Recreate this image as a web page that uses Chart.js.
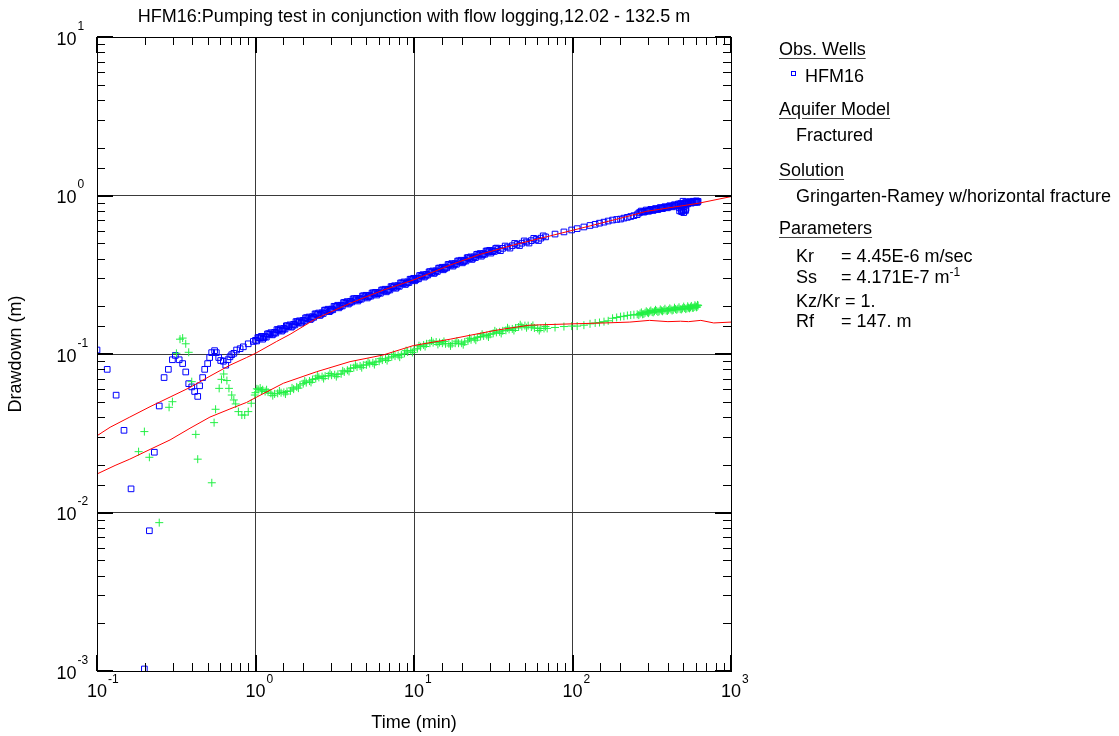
<!DOCTYPE html>
<html lang="en">
<head>
    <meta charset="UTF-8">
    <title>HFM16 pumping test</title>
    <style>
        body {
            margin: 0;
            background: #fff;
            font-family: Arial, "Liberation Sans", sans-serif;
        }
        #wrap {
            position: relative;
            width: 1119px;
            height: 736px;
        }
        #panel div {
            position: absolute;
            font-size: 18px;
            line-height: 20px;
            color: #000;
            white-space: nowrap;
        }
        #panel .head {
            left: 779px;
            text-decoration: underline;
            text-underline-offset: 3px;
            text-decoration-color: #444;
        }
        #panel .item { left: 796px; }
        #panel .val { left: 841px; }
        #panel sup { font-size: 12px; vertical-align: 7px; line-height: 0; }
        .mark {
            position: absolute;
            left: 791px;
            top: 71px;
            width: 3px;
            height: 3px;
            border: 1px solid #0000ff;
        }
    </style>
</head>
<body>
<div id="wrap">
    <canvas id="chart" width="1119" height="736"></canvas>
    <div id="panel">
        <div class="head" style="top:39px">Obs. Wells</div>
        <span class="mark"></span>
        <div style="left:805px;top:65.5px">HFM16</div>
        <div class="head" style="top:99px">Aquifer Model</div>
        <div class="item" style="top:125px">Fractured</div>
        <div class="head" style="top:159.5px">Solution</div>
        <div class="item" style="top:185.5px">Gringarten-Ramey w/horizontal fracture</div>
        <div class="head" style="top:218px">Parameters</div>
        <div class="item" style="top:245.5px">Kr</div>
        <div class="val" style="top:245.5px">= 4.45E-6 m/sec</div>
        <div class="item" style="top:267px">Ss</div>
        <div class="val" style="top:267px">= 4.171E-7 m<sup>-1</sup></div>
        <div class="item" style="top:291px">Kz/Kr = 1.</div>
        <div class="item" style="top:310.5px">Rf</div>
        <div class="val" style="top:310.5px">= 147. m</div>
    </div>
</div>

<script src="https://cdn.jsdelivr.net/npm/chart.js"></script>
<script>
    // observed drawdown, HFM16 (min, m)
    const obsTime = [0.1, 0.116, 0.132, 0.148, 0.164, 0.199, 0.214, 0.230, 0.247, 0.265,
        0.282, 0.299, 0.312, 0.330, 0.347, 0.363, 0.379, 0.396, 0.413, 0.432,
        0.444, 0.464, 0.478, 0.499, 0.514, 0.529, 0.552, 0.566, 0.586, 0.603,
        0.627, 0.649, 0.670, 0.690, 0.708, 0.730, 0.760, 0.800, 0.838, 0.900, 0.969,
        1.00, 1.07, 1.15, 1.23, 1.32, 1.41, 1.51, 1.62, 1.74, 1.86,
        2.00, 2.14, 2.29, 2.46, 2.63, 2.82, 3.02, 3.24, 3.47, 3.72,
        3.98, 4.27, 4.57, 4.90, 5.25, 5.62, 6.03, 6.46, 6.92, 7.41,
        7.94, 8.51, 9.12, 9.77, 10.5, 11.2, 12.0, 12.9, 13.8, 14.8,
        15.8, 17.0, 18.2, 19.5, 20.9, 22.4, 24.0, 25.7, 27.5, 29.5,
        31.6, 33.9, 36.3, 38.9, 41.7, 44.7, 47.9, 51.3, 55.0, 58.9, 63.1, 67.6,
        77.6, 88.3, 98.8, 107, 118, 129, 139, 148, 158, 168, 179, 190, 201, 211, 222, 233, 244, 256,
        267, 277, 287, 297, 307, 318, 329, 340, 352, 364,
        377, 390, 404, 418, 432, 447, 462, 470, 478, 485,
        490, 495, 500, 505, 510, 515, 520, 527, 540, 555,
        570, 585, 600, 610, 620,
        1.035, 1.11, 1.19, 1.275, 1.365, 1.46, 1.565, 1.68, 1.80, 1.93,
        2.07, 2.215, 2.375, 2.545, 2.725, 2.92, 3.13, 3.355, 3.595, 3.85,
        4.125, 4.42, 4.735, 5.075, 5.435, 5.825, 6.245, 6.69, 7.165, 7.675,
        8.225, 8.815, 9.445, 10.1, 10.85, 11.6, 12.45, 13.35, 14.3, 15.3,
        16.4, 17.6, 18.85, 20.2, 21.65, 23.2, 24.85, 26.6, 28.5, 30.55,
        32.75, 35.1, 37.6, 40.3, 43.2, 46.3, 49.6, 53.15, 56.95, 61.0, 65.35,
        262, 272, 282, 292, 302, 312, 323, 334, 346, 358,
        370, 383, 397, 411, 425, 440, 455, 466, 474, 482,
        488, 493, 498, 503, 508, 513, 518, 524, 533, 547,
        562, 577, 592, 605, 615];
    const obsDrawdown = [0.106, 0.080, 0.055, 0.033, 0.0141, 0.00103, 0.00767, 0.024, 0.047, 0.071,
        0.080, 0.092, 0.098, 0.092, 0.087, 0.077, 0.065, 0.062, 0.058, 0.054,
        0.063, 0.071, 0.080, 0.087, 0.095, 0.102, 0.105, 0.102, 0.095, 0.091,
        0.090, 0.085, 0.092, 0.096, 0.099, 0.101, 0.106, 0.108, 0.111, 0.116, 0.120,
        0.122, 0.126, 0.129, 0.133, 0.137, 0.141, 0.145, 0.149, 0.154, 0.158,
        0.163, 0.167, 0.172, 0.177, 0.182, 0.187, 0.192, 0.198, 0.203, 0.209,
        0.215, 0.219, 0.224, 0.229, 0.234, 0.239, 0.244, 0.250, 0.256, 0.263,
        0.270, 0.278, 0.285, 0.293, 0.301, 0.309, 0.318, 0.326, 0.335, 0.344,
        0.353, 0.363, 0.372, 0.381, 0.390, 0.400, 0.410, 0.420, 0.430, 0.440,
        0.448, 0.456, 0.464, 0.473, 0.482, 0.491, 0.500, 0.509, 0.519, 0.528, 0.538, 0.548,
        0.571, 0.589, 0.606, 0.618, 0.633, 0.647, 0.658, 0.669, 0.679, 0.690, 0.700, 0.706, 0.71, 0.72, 0.728, 0.737, 0.746, 0.757,
        0.785, 0.79, 0.795, 0.80, 0.805, 0.81, 0.815, 0.82, 0.826, 0.832,
        0.838, 0.843, 0.848, 0.855, 0.86, 0.866, 0.872, 0.84, 0.878, 0.82,
        0.80, 0.884, 0.81, 0.85, 0.89, 0.80, 0.83, 0.895, 0.90, 0.905,
        0.908, 0.912, 0.915, 0.905, 0.918,
        0.127, 0.124, 0.134, 0.132, 0.1425, 0.1394, 0.1507, 0.1477, 0.160, 0.1565,
        0.169, 0.165, 0.179, 0.175, 0.189, 0.185, 0.200, 0.1955, 0.211, 0.2067,
        0.2224, 0.216, 0.2322, 0.2257, 0.2424, 0.2355, 0.2532, 0.2467, 0.266, 0.2598,
        0.2809, 0.2745, 0.2962, 0.2896, 0.3126, 0.3057, 0.330, 0.3222, 0.348, 0.3398,
        0.367, 0.3583, 0.386, 0.3759, 0.405, 0.395, 0.425, 0.414, 0.446, 0.433,
        0.463, 0.4485, 0.480, 0.4656, 0.4987, 0.4831, 0.5171, 0.5012, 0.5366, 0.5197, 0.5566,
        0.775, 0.798, 0.785, 0.81, 0.795, 0.818, 0.805, 0.828, 0.815, 0.84,
        0.826, 0.85, 0.836, 0.862, 0.848, 0.875, 0.858, 0.885, 0.80, 0.89,
        0.79, 0.86, 0.92, 0.78, 0.875, 0.90, 0.815, 0.91, 0.885, 0.915,
        0.895, 0.92, 0.905, 0.925, 0.91];

    // extra HFM16 readings inside the dense 1-35 min band
    const obsTimeBand = [1.017, 1.053, 1.089, 1.127, 1.170, 1.211, 1.251, 1.295, 1.343, 1.390,
        1.435, 1.485, 1.536, 1.590, 1.648, 1.706, 1.770, 1.832, 1.892, 1.959,
        2.035, 2.106, 2.177, 2.253, 2.330, 2.411, 2.503, 2.590, 2.676, 2.769,
        2.869, 2.969, 3.073, 3.180, 3.296, 3.412, 3.530, 3.654, 3.785, 3.917,
        4.049, 4.191, 4.344, 4.496, 4.650, 4.812, 4.985, 5.160, 5.341, 5.528,
        5.718, 5.918, 6.135, 6.350, 6.572, 6.802, 7.040, 7.287, 7.539, 7.803,
        8.078, 8.361, 8.658, 8.961, 9.279, 9.603, 9.940, 10.29, 10.68, 11.06,
        11.39, 11.79, 12.21, 12.64, 13.12, 13.58, 14.04, 14.53, 15.06, 15.58,
        16.07, 16.64, 17.30, 17.90, 18.52, 19.16, 19.84, 20.53, 21.26, 22.01,
        22.79, 23.59, 24.42, 25.27, 26.15, 27.06, 27.98, 28.96, 30.01, 31.06,
        32.15, 33.27];
    const obsDrawdownBand = [0.1208, 0.1269, 0.1292, 0.1266, 0.1277, 0.1342, 0.1363, 0.1337, 0.1356, 0.1425,
        0.1445, 0.1417, 0.1436, 0.1508, 0.1527, 0.1497, 0.1525, 0.1602, 0.162, 0.1588,
        0.1614, 0.1695, 0.1712, 0.1678, 0.1703, 0.1789, 0.1814, 0.1779, 0.1802, 0.1893,
        0.1917, 0.1879, 0.1901, 0.1997, 0.203, 0.199, 0.201, 0.2111, 0.2142, 0.21,
        0.2129, 0.2236, 0.2245, 0.2201, 0.2218, 0.233, 0.2347, 0.2301, 0.2317, 0.2434,
        0.245, 0.2402, 0.2416, 0.2538, 0.2563, 0.2513, 0.2534, 0.2662, 0.2696, 0.2643,
        0.2673, 0.2808, 0.285, 0.2794, 0.2822, 0.2964, 0.3003, 0.2945, 0.298, 0.313,
        0.3167, 0.3105, 0.3148, 0.3307, 0.3342, 0.3276, 0.3317, 0.3484, 0.3526, 0.3457,
        0.3495, 0.3671, 0.3721, 0.3648, 0.3683, 0.3869, 0.3905, 0.3829, 0.3861, 0.4056,
        0.41, 0.402, 0.4059, 0.4264, 0.4305, 0.4221, 0.4257, 0.4472, 0.451, 0.4422,
        0.4435, 0.4659];

    // derivative data (green crosses)
    const derivTime = [0.183, 0.199, 0.214, 0.247, 0.285, 0.299, 0.317, 0.334, 0.347, 0.363,
        0.379, 0.396, 0.420, 0.432, 0.530, 0.548, 0.560, 0.590, 0.610, 0.630,
        0.660, 0.680, 0.708, 0.730, 0.750, 0.780, 0.820, 0.855, 0.900, 0.940, 0.990,
        1.00, 1.04, 1.07, 1.11, 1.15, 1.20, 1.25, 1.32, 1.38, 1.45,
        1.51, 1.58, 1.66, 1.74, 1.82, 1.91, 2.00, 2.09, 2.19, 2.29,
        2.40, 2.51, 2.63, 2.75, 2.88, 3.02, 3.16, 3.31, 3.47, 3.63,
        3.80, 3.98, 4.17, 4.37, 4.57, 4.79, 5.01, 5.25, 5.50, 5.75,
        6.03, 6.31, 6.61, 6.92, 7.24, 7.59, 7.94, 8.32, 8.71, 9.12,
        9.55, 10.0, 10.5, 11.0, 11.5, 12.0, 12.6, 13.2, 13.8, 14.5,
        15.1, 15.8, 16.6, 17.4, 18.2, 19.1, 20.0, 20.9, 21.9, 22.9,
        24.0, 25.1, 26.3, 27.5, 28.8, 30.2, 31.6, 33.1, 34.7, 36.3,
        38.0, 39.8, 41.7, 43.7, 45.7, 47.9, 50.1, 52.5, 55.0, 57.5,
        60.3, 63.1, 66.1, 69.2,
        77.6, 88.3, 98.8, 107, 118, 129, 139, 148, 158, 168, 179, 190, 201, 211, 222, 233, 244, 256,
        267, 277, 287, 297, 307, 318, 329, 340, 352, 364,
        377, 390, 404, 418, 432, 447, 462, 478, 495, 510,
        527, 540, 555, 570, 585, 600, 610, 620,
        1.02, 1.09, 1.175, 1.285, 1.415, 1.545, 1.70, 1.865, 2.045, 2.24,
        2.455, 2.69, 2.95, 3.235, 3.55, 3.89, 4.27, 4.68, 5.13, 5.625,
        6.17, 6.765, 7.415, 8.125, 8.915, 9.775, 10.75, 11.75, 12.9, 14.15,
        15.45, 17.0, 18.65, 20.45, 22.4, 24.55, 26.9, 29.5, 32.35, 35.5,
        38.9, 42.7, 46.8, 51.3, 56.25, 61.7, 67.6,
        262, 272, 282, 292, 302, 312, 323, 334, 346, 358,
        370, 383, 397, 411, 425, 440, 455, 470, 486, 503,
        518, 533, 547, 562, 577, 592, 605, 615];
    const derivDrawdown = [0.0242, 0.0324, 0.0223, 0.00863, 0.0461, 0.050, 0.101, 0.124, 0.126, 0.116,
        0.1025, 0.0669, 0.0311, 0.0217, 0.0154, 0.0369, 0.0448, 0.0607, 0.0692, 0.0748,
        0.068, 0.0607, 0.0551, 0.0513, 0.0484, 0.0433, 0.0412, 0.0412, 0.0433, 0.0489, 0.0551,
        0.057, 0.0598, 0.061, 0.0595, 0.058, 0.0575, 0.0565, 0.056, 0.0565, 0.057,
        0.0572, 0.058, 0.0585, 0.060, 0.062, 0.0637, 0.065, 0.066, 0.0675, 0.069,
        0.070, 0.0712, 0.072, 0.0725, 0.073, 0.0735, 0.074, 0.0745, 0.075, 0.077,
        0.079, 0.0812, 0.082, 0.083, 0.084, 0.085, 0.0855, 0.087, 0.088, 0.089,
        0.090, 0.0915, 0.093, 0.0945, 0.096, 0.097, 0.098, 0.099, 0.101, 0.103,
        0.105, 0.106, 0.108, 0.111, 0.114, 0.116, 0.117, 0.118, 0.119, 0.118,
        0.117, 0.116, 0.116, 0.116, 0.117, 0.117, 0.117, 0.119, 0.121, 0.123,
        0.125, 0.127, 0.129, 0.130, 0.131, 0.133, 0.135, 0.137, 0.138, 0.140,
        0.141, 0.143, 0.144, 0.146, 0.148, 0.149, 0.151, 0.151, 0.148, 0.146,
        0.145, 0.145, 0.145, 0.145,
        0.147, 0.149, 0.150, 0.150, 0.152, 0.155, 0.157, 0.158, 0.160, 0.162, 0.168, 0.170, 0.172, 0.173, 0.175, 0.176, 0.177, 0.178,
        0.180, 0.178, 0.182, 0.183, 0.185, 0.184, 0.186, 0.187, 0.186, 0.188,
        0.189, 0.188, 0.190, 0.191, 0.190, 0.192, 0.193, 0.192, 0.194, 0.195,
        0.194, 0.196, 0.197, 0.196, 0.198, 0.200, 0.198, 0.202,
        0.0603, 0.0585, 0.0595, 0.0546, 0.0584, 0.0559, 0.0611, 0.0609, 0.0675, 0.0662,
        0.0727, 0.0700, 0.0754, 0.0720, 0.0783, 0.0776, 0.085, 0.082, 0.0888, 0.0858,
        0.0934, 0.0909, 0.0994, 0.0955, 0.105, 0.1023, 0.1128, 0.1115, 0.121, 0.1149,
        0.120, 0.1125, 0.1205, 0.1145, 0.1257, 0.1222, 0.1334, 0.128, 0.140, 0.1348,
        0.1463, 0.1407, 0.153, 0.1465, 0.1514, 0.1407, 0.149,
        0.176, 0.183, 0.179, 0.186, 0.181, 0.188, 0.183, 0.190, 0.184, 0.191,
        0.186, 0.193, 0.187, 0.194, 0.188, 0.196, 0.190, 0.197, 0.191, 0.199,
        0.192, 0.200, 0.194, 0.201, 0.195, 0.203, 0.197, 0.204];

    // Gringarten-Ramey type curves (red)
    const fitTime = [0.1, 0.121, 0.161, 0.216, 0.289, 0.386, 0.516, 0.69, 0.879, 1.0,
        1.36, 1.65, 2.43, 3.95, 6.4, 9.9, 16.9, 26.1, 42.4, 100,
        200, 294, 622, 1000];
    const fitDrawdown = [0.0305, 0.0345, 0.040, 0.0465, 0.0535, 0.0615, 0.0725, 0.085, 0.095, 0.101,
        0.120, 0.133, 0.168, 0.209, 0.253, 0.293, 0.364, 0.425, 0.487, 0.603,
        0.718, 0.795, 0.893, 0.984];
    const fitDerivTime = [0.1, 0.13, 0.161, 0.216, 0.289, 0.386, 0.516, 0.69, 0.879, 1.0,
        1.5, 2.43, 3.95, 6.4, 9.9, 16.9, 26.1, 34, 53.5, 100,
        160, 230, 306, 400, 480, 540, 645, 778, 1000];
    const fitDeriv = [0.0175, 0.0198, 0.0217, 0.0250, 0.0287, 0.0340, 0.0400, 0.0450, 0.0495, 0.053,
        0.0654, 0.0773, 0.0895, 0.0986, 0.113, 0.124, 0.135, 0.142, 0.152, 0.155,
        0.157, 0.159, 0.163, 0.160, 0.161, 0.160, 0.163, 0.157, 0.159];

    // decade labels: 10^n
    const xTickExp = [-1, 0, 1, 2, 3];
    const yTickExp = [-3, -2, -1, 0, 1];

    const pairs = (xs, ys) => xs.map((t, i) => ({x: t, y: ys[i]}));
    const isDecade = v => Math.abs(Math.log10(v) - Math.round(Math.log10(v))) < 1e-6;
    const FONT = 'Arial, "Liberation Sans", sans-serif';

    // inward ticks, frame and 10^n labels
    const axisDecor = {
        id: 'axisDecor',
        afterDraw(chart) {
            const ctx = chart.ctx;
            const a = chart.chartArea;
            const sx = chart.scales.x, sy = chart.scales.y;
            ctx.save();
            ctx.strokeStyle = '#000';
            sx.ticks.forEach(t => {
                const major = isDecade(t.value);
                const len = major ? 16 : 8;
                ctx.lineWidth = major ? 2 : 1;
                const px = Math.round(sx.getPixelForValue(t.value)) + (major ? 0 : 0.5);
                ctx.beginPath();
                ctx.moveTo(px, a.bottom); ctx.lineTo(px, a.bottom - len);
                ctx.moveTo(px, a.top); ctx.lineTo(px, a.top + len);
                ctx.stroke();
            });
            sy.ticks.forEach(t => {
                const major = isDecade(t.value);
                const len = major ? 16 : 8;
                ctx.lineWidth = major ? 2 : 1;
                const py = Math.round(sy.getPixelForValue(t.value)) + (major ? 0 : 0.5);
                ctx.beginPath();
                ctx.moveTo(a.left, py); ctx.lineTo(a.left + len, py);
                ctx.moveTo(a.right, py); ctx.lineTo(a.right - len, py);
                ctx.stroke();
            });
            ctx.lineWidth = 1;
            ctx.strokeRect(Math.round(a.left) + 0.5, Math.round(a.top) + 0.5,
                Math.round(a.right - a.left), Math.round(a.bottom - a.top));

            ctx.fillStyle = '#000';
            ctx.textBaseline = 'alphabetic';
            xTickExp.forEach(e => {
                const px = sx.getPixelForValue(Math.pow(10, e));
                ctx.font = '18px ' + FONT;
                ctx.textAlign = 'center';
                ctx.fillText('10', px, a.bottom + 26);
                const w = ctx.measureText('10').width;
                ctx.font = '12px ' + FONT;
                ctx.textAlign = 'left';
                ctx.fillText(String(e), px + w / 2 + 1, a.bottom + 12);
            });
            yTickExp.forEach(e => {
                const py = sy.getPixelForValue(Math.pow(10, e));
                ctx.font = '18px ' + FONT;
                ctx.textAlign = 'right';
                ctx.fillText('10', a.left - 20.5, py + 7.5);
                ctx.font = '12px ' + FONT;
                ctx.textAlign = 'left';
                ctx.fillText(String(e), a.left - 19.5, py - 7.5);
            });
            ctx.restore();
        }
    };

    const gridColor = c => (c.tick && isDecade(c.tick.value)) ? '#3a3a3a' : 'rgba(0,0,0,0)';

    const ctx = document.getElementById('chart').getContext('2d');
    const chart = new Chart(ctx, {
        type: 'scatter',
        data: {
            datasets: [
                {
                    label: 'Type curve',
                    type: 'line',
                    data: pairs(fitTime, fitDrawdown),
                    borderColor: '#ff0000',
                    borderWidth: 1,
                    pointRadius: 0,
                    tension: 0,
                    fill: false,
                    order: 0
                },
                {
                    label: 'Type curve derivative',
                    type: 'line',
                    data: pairs(fitDerivTime, fitDeriv),
                    borderColor: '#ff0000',
                    borderWidth: 1,
                    pointRadius: 0,
                    tension: 0,
                    fill: false,
                    order: 0
                },
                {
                    label: 'HFM16',
                    data: pairs(obsTime, obsDrawdown).concat(pairs(obsTimeBand, obsDrawdownBand)),
                    pointStyle: 'rect',
                    pointRadius: 4,
                    pointBorderWidth: 1,
                    pointBorderColor: '#0000ff',
                    pointBackgroundColor: 'rgba(0,0,0,0)',
                    clip: 0,
                    order: 2
                },
                {
                    label: 'HFM16 derivative',
                    data: pairs(derivTime, derivDrawdown),
                    pointStyle: 'cross',
                    pointRadius: 4,
                    pointBorderWidth: 1,
                    pointBorderColor: '#22f044',
                    clip: 0,
                    order: 1
                }
            ]
        },
        options: {
            responsive: false,
            animation: false,
            events: [],
            layout: { padding: { left: 0, top: 0, right: 388, bottom: 0 } },
            plugins: {
                legend: { display: false },
                tooltip: { enabled: false },
                title: {
                    display: true,
                    fullSize: false,
                    text: 'HFM16:Pumping test in conjunction with flow logging,12.02 - 132.5 m',
                    color: '#000',
                    font: { family: FONT, size: 18, weight: 'normal' },
                    padding: { top: 6, bottom: 9.4 }
                }
            },
            scales: {
                x: {
                    type: 'logarithmic',
                    position: 'bottom',
                    min: 0.1,
                    max: 1000,
                    afterFit: s => { s.height = 65; },
                    ticks: { display: false },
                    grid: { color: gridColor, lineWidth: 1, drawTicks: false },
                    border: { display: true, color: '#000' },
                    title: {
                        display: true,
                        text: 'Time (min)',
                        color: '#000',
                        font: { family: FONT, size: 18 },
                        padding: { top: 0, bottom: 2.4 }
                    }
                },
                y: {
                    type: 'logarithmic',
                    position: 'left',
                    min: 0.001,
                    max: 10,
                    afterFit: s => { s.width = 97; },
                    ticks: { display: false },
                    grid: { color: gridColor, lineWidth: 1, drawTicks: false },
                    border: { display: true, color: '#000' },
                    title: {
                        display: true,
                        text: 'Drawdown (m)',
                        color: '#000',
                        font: { family: FONT, size: 18 },
                        padding: { top: 5.2, bottom: 0 }
                    }
                }
            }
        },
        plugins: [axisDecor]
    });
</script>
</body>
</html>
